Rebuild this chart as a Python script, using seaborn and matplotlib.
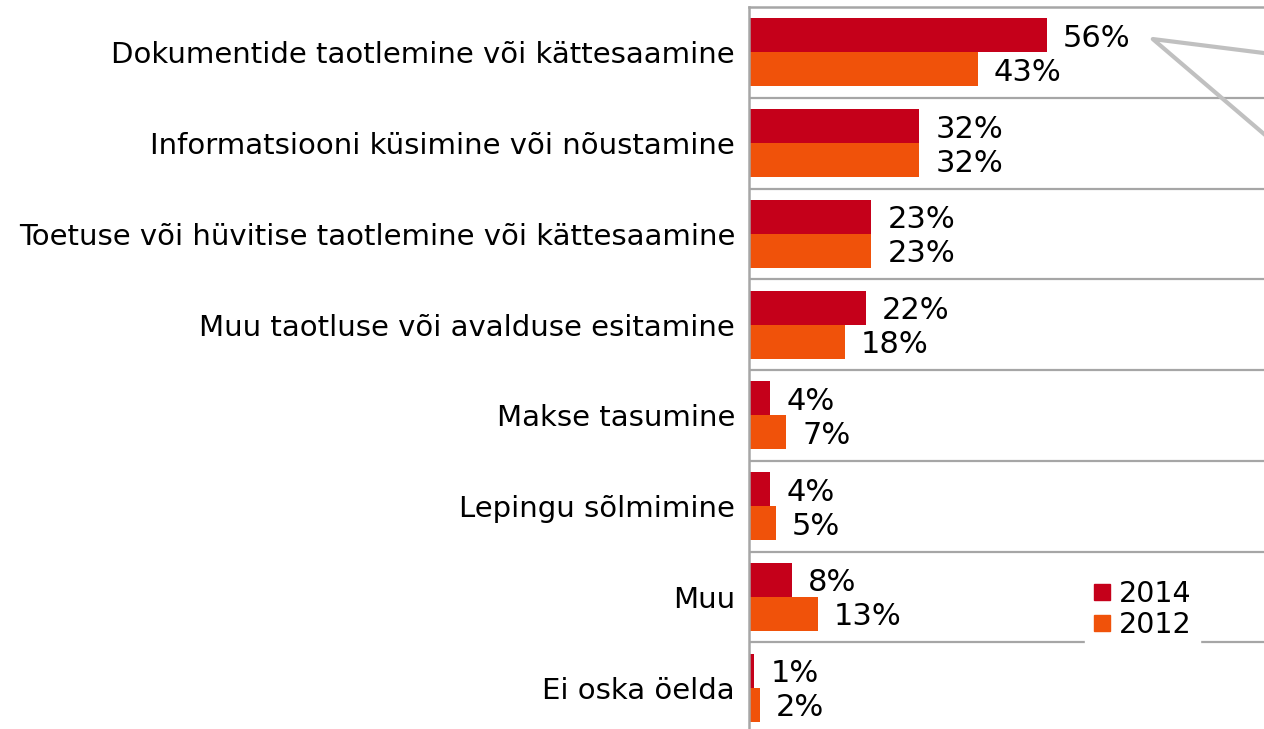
import matplotlib
matplotlib.use("Agg")
import matplotlib.pyplot as plt
from matplotlib.lines import Line2D
import seaborn as sns
import pandas as pd

categories = [
    "Dokumentide taotlemine või kättesaamine",
    "Informatsiooni küsimine või nõustamine",
    "Toetuse või hüvitise taotlemine või kättesaamine",
    "Muu taotluse või avalduse esitamine",
    "Makse tasumine",
    "Lepingu sõlmimine",
    "Muu",
    "Ei oska öelda",
]
values_2014 = [56, 32, 23, 22, 4, 4, 8, 1]
values_2012 = [43, 32, 23, 18, 7, 5, 13, 2]
years = ["2014", "2012"]
colors = {"2014": "#C5001A", "2012": "#F0520A"}

df = pd.DataFrame({
    "kategooria": categories * 2,
    "osakaal": values_2014 + values_2012,
    "aasta": ["2014"] * len(categories) + ["2012"] * len(categories),
})

sns.set_theme(style="white")
plt.rcParams["font.family"] = ["DejaVu Sans"]

W, H = 1264, 729
fig = plt.figure(figsize=(W / 100, H / 100), dpi=100)
# axes box in pixels: left 749, top 7, 8 rows of ~90.75 px, 5.32 px per percent
ax_left, ax_top, row_h, px_per = 749, 7, 90.75, 5.32
xmax = 100
ax = fig.add_axes([ax_left / W, 1 - (ax_top + 8 * row_h) / H,
                   xmax * px_per / W, 8 * row_h / H])

sns.barplot(data=df, y="kategooria", x="osakaal", hue="aasta",
            hue_order=years, palette=colors, orient="h", width=0.75,
            linewidth=0, saturation=1, ax=ax, legend=False)

ax.set_xlim(0, xmax)
ax.set_ylim(len(categories) - 0.5, -0.5)
ax.set_xlabel("")
ax.set_ylabel("")
ax.set_xticks([])
ax.tick_params(axis="y", length=0, pad=10, labelsize=21, labelcolor="black")

grid_c = "#A6A6A6"
for i in range(len(categories) - 1):
    ax.axhline(i + 0.5, color=grid_c, lw=1.6, zorder=0.5)
for side in ["right", "bottom"]:
    ax.spines[side].set_visible(False)
for side in ["left", "top"]:
    ax.spines[side].set_color(grid_c)
    ax.spines[side].set_linewidth(1.8)

for cont, yr in zip(ax.containers, years):
    vals = values_2014 if yr == "2014" else values_2012
    txts = ax.bar_label(cont, labels=[f"{v}%" for v in vals], padding=11.5,
                        fontsize=22, color="black")
    for t in txts:
        t.set_va("center_baseline")

# callout leading out of the first label
cx, cy = 75.9, -0.147
ax.plot([cx + 120 / px_per, cx, cx + 120 / px_per],
        [cy + (15.1 / row_h), cy, cy + (102.5 / row_h)],
        color="#C0C0C0", lw=3, clip_on=False, zorder=3,
        solid_capstyle="round", solid_joinstyle="round")

handles = [Line2D([], [], marker="s", linestyle="", markersize=11.5,
                  color=colors[y]) for y in years]
leg = ax.legend(handles, years, loc="lower left", fontsize=20.5,
                bbox_to_anchor=(1085 / W, 1 - 648 / H),
                bbox_transform=fig.transFigure, borderaxespad=0,
                frameon=True, facecolor="white", edgecolor="white",
                framealpha=1, fancybox=False, handlelength=0.6,
                handletextpad=0.3, labelspacing=0.12, borderpad=0.3,
                labelcolor="black")

fig.savefig("out.png", dpi=100)
